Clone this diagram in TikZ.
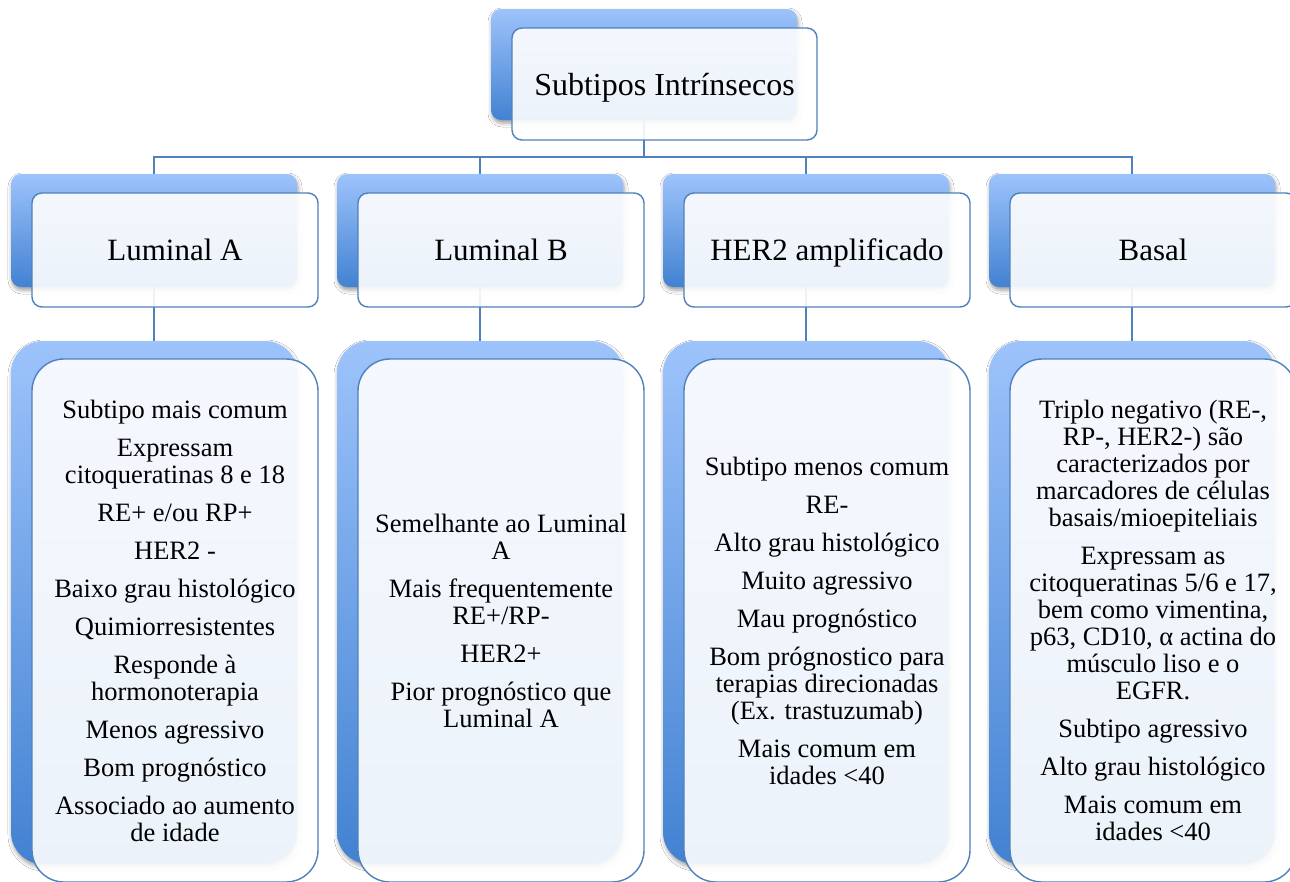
\documentclass[tikz,border=0pt]{standalone}
\usepackage{fontspec}
\setmainfont{Liberation Serif}
\usetikzlibrary{shadows.blur}
\definecolor{bord}{RGB}{79,129,189}
\definecolor{cardtop}{RGB}{157,195,251}
\definecolor{cardbot}{RGB}{66,130,210}
\tikzset{
  card/.style={rectangle, rounded corners=#1, top color=cardtop, bottom color=cardbot,
    draw=none, inner sep=0pt,
    blur shadow={shadow xshift=1pt, shadow yshift=-3pt, shadow blur radius=4pt, shadow opacity=40}},
  face/.style={rectangle, rounded corners=#1, draw=bord, line width=1.4pt, fill=white,
    fill opacity=0.9, text opacity=1, draw opacity=1, align=center, inner sep=0pt},
  conn/.style={draw=bord, line width=1.5pt},
  lvtwo/.style={minimum width=286pt, minimum height=113pt},
  lvthree/.style={minimum width=286pt, minimum height=523pt},
  bigfont/.style={font=\fontsize{32}{36}\selectfont, text height=22pt, text depth=0pt},
  midfont/.style={font=\fontsize{31}{35}\selectfont, text height=21pt, text depth=0pt},
  smallfont/.style={font=\fontsize{26.5}{27}\selectfont},
}
\newcommand{\pgap}{\\[11pt]}
\begin{document}
\begin{tikzpicture}[x=1pt,y=-1pt]
\useasboundingbox (0,0) rectangle (1290,881);
\clip (0,0) rectangle (1290,881);
\fill[white] (0,0) rectangle (1290,881);

% back cards
\node[card=10pt, minimum width=306pt, minimum height=111pt] (topb) at (644,64.5) {};
\node[card=10pt, lvtwo] (lab) at (154,230.5) {};
\node[card=10pt, lvtwo] (lbb) at (480,230.5) {};
\node[card=10pt, lvtwo] (hb)  at (806,230.5) {};
\node[card=10pt, lvtwo] (bab) at (1132,230.5) {};
\node[card=32pt, lvthree] (la3b) at (154,602.5) {};
\node[card=32pt, lvthree] (lb3b) at (480,602.5) {};
\node[card=32pt, lvthree] (h3b)  at (806,602.5) {};
\node[card=32pt, lvthree] (ba3b) at (1132,602.5) {};

% connectors
\coordinate (hbar) at (644,157);
\draw[conn] (topb.south) -- (hbar) -| (lab.north);
\draw[conn] (hbar) -| (lbb.north);
\draw[conn] (hbar) -| (hb.north);
\draw[conn] (hbar) -| (bab.north);
\draw[conn] (lab.south) -- (la3b.north);
\draw[conn] (lbb.south) -- (lb3b.north);
\draw[conn] (hb.south) -- (h3b.north);
\draw[conn] (bab.south) -- (ba3b.north);

% front faces
\node[face=10pt, minimum width=305pt, minimum height=112pt, bigfont] (topf) at (664.5,84) {Subtipos Intrínsecos};
\node[face=10pt, lvtwo, minimum height=114pt, midfont] (laf) at (175,250) {Luminal A};
\node[face=10pt, lvtwo, minimum height=114pt, midfont] (lbf) at (501,250) {Luminal B};
\node[face=10pt, lvtwo, minimum height=114pt, midfont] (hf)  at (827,250) {HER2 amplificado};
\node[face=10pt, lvtwo, minimum height=114pt, midfont] (baf) at (1153,250) {Basal};

\node[face=32pt, lvthree, smallfont] (la3f) at (175,620.5) {Subtipo mais comum\pgap
Expressam\\ citoqueratinas 8 e 18\pgap
RE+ e/ou RP+\pgap
HER2 -\pgap
Baixo grau histológico\pgap
Quimiorresistentes\pgap
Responde à\\ hormonoterapia\pgap
Menos agressivo\pgap
Bom prognóstico\pgap
Associado ao aumento\\ de idade};

\node[face=32pt, lvthree, smallfont] (lb3f) at (501,620.5) {Semelhante ao Luminal\\ A\pgap
Mais frequentemente\\ RE+/RP-\pgap
HER2+\pgap
Pior prognóstico que\\ Luminal A};

\node[face=32pt, lvthree, smallfont] (h3f) at (827,620.5) {Subtipo menos comum\pgap
RE-\pgap
Alto grau histológico\pgap
Muito agressivo\pgap
Mau prognóstico\pgap
Bom prógnostico para\\ terapias direcionadas\\ (Ex. trastuzumab)\pgap
Mais comum em\\ idades <40};

\node[face=32pt, lvthree, smallfont] (ba3f) at (1153,620.5) {Triplo negativo (RE-,\\ RP-, HER2-) são\\ caracterizados por\\ marcadores de células\\ basais/mioepiteliais\pgap
Expressam as\\ citoqueratinas 5/6 e 17,\\ bem como vimentina,\\ p63, CD10, α actina do\\ músculo liso e o\\ EGFR.\pgap
Subtipo agressivo\pgap
Alto grau histológico\pgap
Mais comum em\\ idades <40};
\end{tikzpicture}
\end{document}
